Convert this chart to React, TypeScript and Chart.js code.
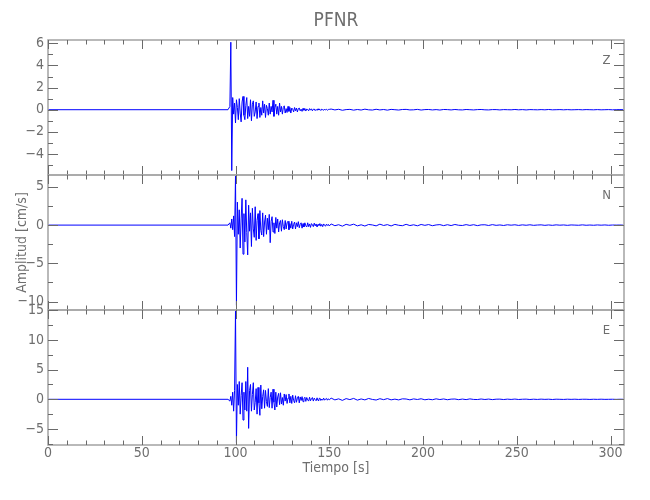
import React, { useEffect, useRef } from "react";
import { Chart, registerables } from "chart.js";

Chart.register(...registerables);

const titleText = "PFNR";
const xTitle = "Tiempo [s]";
const yTitle = "Amplitud [cm/s]";
const channelNames = ["Z", "N", "E"];

// quiet part before the arrival (s, cm/s)
const preTimes = [0, 96];
const preValues = [0, 0];

// active part: samples every 0.5 s starting at 96.5 s
const activeStart = 96.5;
const activeStep = 0.5;
const zActive = [
  0, 0.3, 6.1, -5.5, 1.1, -0.4, 0.6, -1.2, 0.9, 0.2,
  -0.9, 1.0, -0.3, -1.1, 0.7, 1.2, -0.5, -0.9, 0.4, 1.1,
  -0.8, 0.3, -0.6, 0.9, -1.0, 0.5, 0.8, -0.6, -0.2, 0.7,
  -0.8, 0.3, 0.6, -0.7, 0.2, -0.5, 0.8, -0.3, 0.5, -0.7,
  0.4, 0.1, -0.5, 0.6, -0.4, 0.3, -0.2, 0.85, -0.6, 0.2,
  0.5, -0.4, 0.3, -0.5, 0.6, -0.2, 0.3, -0.4, 0.2, 0.35,
  -0.3, 0.1, -0.25, 0.3, -0.15, 0.2, -0.3, 0.15, 0.05, -0.2,
  0.2, -0.1, 0.15, -0.2, 0.1, 0.15, -0.1, 0.05, -0.15, 0.12,
  -0.05, 0.1, -0.12, 0.06, 0.02, -0.1, 0.1, -0.04, 0.08, -0.1,
  0.04, 0.06, -0.08, 0.03, -0.06, 0.08, -0.03, 0.04, -0.07, 0.05,
  0.0, -0.05, 0.06, -0.03, 0.04, -0.05, 0.02, 0.03,
];
const nActive = [
  0, 0.3, -0.4, 0.8, -0.6, 1.2, -1.5, 6.5, -10.5, 3.0,
  -1.2, 2.0, -3.0, 0.8, 3.5, -3.8, 1.5, -2.2, 3.3, -1.0,
  -3.9, 2.6, -0.8, 1.6, -2.8, 2.2, -0.5, -1.6, 2.4, -2.0,
  0.6, 1.5, -1.8, 1.9, -0.7, -1.3, 1.6, -1.5, 0.4, 1.3,
  -1.2, 0.9, -0.6, 1.4, -2.3, 0.5, 1.1, -0.9, 0.3, -1.1,
  1.0, -0.4, 0.8, -0.9, 0.3, 0.6, -0.8, 0.7, -0.2, -0.6,
  0.6, -0.5, 0.3, 0.5, -0.6, 0.2, -0.4, 0.5, -0.5, 0.1,
  0.4, -0.5, 0.3, -0.2, 0.45, -0.35, 0.1, 0.3, -0.4, 0.2,
  -0.25, 0.3, -0.1, -0.25, 0.3, -0.2, 0.15, -0.3, 0.2, 0.05,
  -0.2, 0.25, -0.1, 0.15, -0.25, 0.1, -0.05, 0.2, -0.15, 0.1,
  -0.2, 0.15, 0.0, -0.15, 0.12, -0.05, 0.1, -0.12,
];
const eActive = [
  0, -0.3, 0.5, -1.0, 1.2, -2.0, 1.5, 15.0, -7.3, 2.5,
  -1.0, 3.0, -2.5, 0.6, 2.8, -3.5, 1.2, -1.8, 3.0, -2.0,
  5.4, -4.9, 1.5, 2.5, -2.0, 0.8, 2.8, -1.8, -0.5, 1.8,
  -2.5, 2.0, -0.6, -2.7, 2.4, -1.6, 0.5, 1.6, -1.5, 1.5,
  -0.4, -1.2, 1.8, -1.4, 0.3, 1.2, -1.5, 1.7, -0.5, -1.8,
  1.2, -1.3, 0.4, 1.0, -0.9, 1.1, -0.8, 0.3, -1.0, 0.9,
  -0.3, 0.8, -0.7, 0.2, 0.9, -0.6, 0.5, -0.7, 0.7, -0.2,
  -0.6, 0.6, -0.5, 0.2, 0.5, -0.6, 0.4, -0.2, 0.45, -0.4,
  0.1, 0.35, -0.35, 0.3, -0.1, -0.3, 0.35, -0.25, 0.1, 0.3,
  -0.3, 0.2, -0.05, -0.25, 0.25, -0.2, 0.1, 0.2, -0.2, 0.05,
  -0.15, 0.2, -0.15, 0.05, 0.15, -0.15, 0.1, -0.1,
];

// late coda: samples every 2 s starting at 151 s
const tailStart = 151;
const tailStep = 2;
const zTail = [
  0.06, -0.02, 0.04, -0.05, 0.01, 0.03, -0.04, 0.02, -0.03, 0.05,
  -0.01, -0.03, 0.04, -0.02, 0.02, -0.04, 0.03, 0.0, -0.03, 0.02,
  0.03, -0.02, -0.01, 0.03, -0.03, 0.01, 0.02, -0.02, 0.01, -0.03,
  0.02, 0.01, -0.02, 0.02, -0.01, -0.02, 0.02, 0.0, -0.02, 0.01,
  0.02, -0.01, -0.02, 0.01, 0.01, -0.02, 0.01, 0.0, -0.01, 0.02,
  -0.01, 0.01, -0.02, 0.01, 0.0, -0.01, 0.01, -0.01, 0.02, -0.01,
  0.0, 0.01, -0.01, 0.01, -0.01, 0.0, 0.01, -0.01, 0.01, 0.0,
  -0.01, 0.01, -0.01, 0.0, 0.01, -0.01, 0.0, 0.01, 0.0,
];
const nTail = [
  0.15, -0.08, 0.05, -0.14, 0.1, -0.03, 0.12, -0.1, 0.04, -0.12,
  0.08, 0.02, -0.1, 0.12, -0.05, 0.06, -0.11, 0.09, -0.02, -0.08,
  0.1, -0.06, 0.04, -0.09, 0.08, -0.03, 0.07, -0.08, 0.02, 0.06,
  -0.07, 0.05, -0.06, 0.08, -0.02, -0.05, 0.06, -0.04, 0.05, -0.07,
  0.03, 0.04, -0.05, 0.06, -0.03, 0.02, -0.05, 0.04, -0.01, 0.04,
  -0.04, 0.03, -0.02, 0.04, -0.03, 0.01, 0.03, -0.03, 0.02, -0.03,
  0.03, -0.01, 0.02, -0.03, 0.02, 0.0, -0.02, 0.03, -0.02, 0.01,
  -0.02, 0.02, -0.01, 0.02, -0.02, 0.01, 0.0, 0.01, -0.01,
];
const eTail = [
  0.2, -0.1, 0.08, -0.18, 0.12, -0.05, 0.15, -0.14, 0.06, -0.1,
  0.14, -0.02, -0.12, 0.1, -0.06, 0.12, -0.09, 0.03, -0.1, 0.08,
  0.05, -0.09, 0.07, -0.03, 0.09, -0.08, 0.02, -0.07, 0.08, -0.04,
  0.06, -0.07, 0.03, 0.05, -0.06, 0.04, -0.05, 0.07, -0.02, -0.04,
  0.05, -0.03, 0.04, -0.05, 0.02, 0.03, -0.04, 0.03, -0.02, 0.04,
  -0.03, 0.01, 0.03, -0.03, 0.02, -0.02, 0.03, -0.01, 0.02, -0.03,
  0.02, 0.0, -0.02, 0.02, -0.01, 0.02, -0.02, 0.01, 0.01, -0.02,
  0.01, -0.01, 0.02, -0.01, 0.0, 0.01, -0.01, 0.01, 0.0,
];

const xRange = [0, 307.2];
const xTicks = [0, 50, 100, 150, 200, 250, 300];
const xMinorStep = 10;

const zRange = [-5.9, 6.3];
const nRange = [-11.1, 6.55];
const eRange = [-7.7, 15.05];
const zTicks = [-4, -2, 0, 2, 4, 6];
const nTicks = [-10, -5, 0, 5];
const eTicks = [-5, 0, 5, 10, 15];
const zMinorStep = 1;
const nMinorStep = 2.5;
const eMinorStep = 2.5;

const FONT = "'Liberation Sans Narrow', 'DejaVu Sans Condensed', 'Liberation Sans', sans-serif";
const TEXT_COLOR = "#6e6e6e";
const FRAME_COLOR = "#a8a8a8";
const TICK_COLOR = "#6a6a6a";

function buildSeries(active: number[], tail: number[]) {
  const pts: { x: number; y: number }[] = [];
  preTimes.forEach((t, i) => pts.push({ x: t, y: preValues[i] }));
  active.forEach((v, i) => pts.push({ x: activeStart + i * activeStep, y: v }));
  tail.forEach((v, i) => pts.push({ x: tailStart + i * tailStep, y: v }));
  return pts;
}

const fmt = (v: number) => (v < 0 ? "\u2212" + Math.abs(v) : String(v));

function yAxis(range: number[], ticks: number[], withTitle: boolean) {
  return {
    type: "linear",
    position: "left",
    stack: "panels",
    stackWeight: 1,
    offset: false,
    min: range[0],
    max: range[1],
    grid: { display: false, drawTicks: false },
    border: { display: false },
    ticks: {
      color: TEXT_COLOR,
      font: { family: FONT, size: 14 },
      padding: 4,
      autoSkip: false,
      callback: (v: number) => fmt(v),
    },
    title: withTitle
      ? {
          display: true,
          text: yTitle,
          color: TEXT_COLOR,
          font: { family: FONT, size: 14 },
          padding: { top: 13.6, bottom: 0 },
        }
      : { display: false },
    afterBuildTicks: (s: any) => {
      s.ticks = ticks.map((v) => ({ value: v }));
    },
    afterFit: (s: any) => {
      s.width = 48;
    },
  };
}

const framePlugin = {
  id: "seisFrame",
  afterDatasetsDraw(chart: any) {
    const { ctx, chartArea, scales } = chart;
    const xs = scales.x;
    const left = chartArea.left;
    const right = chartArea.right;
    const panels = [
      { s: scales.yZ, major: zTicks, step: zMinorStep, name: channelNames[0] },
      { s: scales.yN, major: nTicks, step: nMinorStep, name: channelNames[1] },
      { s: scales.yE, major: eTicks, step: eMinorStep, name: channelNames[2] },
    ];
    ctx.save();
    // title centred over the plot area
    ctx.fillStyle = TEXT_COLOR;
    ctx.font = "19px " + FONT;
    ctx.textAlign = "center";
    ctx.textBaseline = "middle";
    ctx.fillText(titleText, (left + right) / 2, 21.5);
    for (const p of panels) {
      const top = p.s.top;
      const bottom = p.s.bottom;
      ctx.strokeStyle = FRAME_COLOR;
      ctx.lineWidth = 1.6;
      ctx.strokeRect(left, top, right - left, bottom - top);
      ctx.strokeStyle = TICK_COLOR;
      ctx.lineWidth = 1;
      ctx.beginPath();
      for (let v = xRange[0]; v <= xRange[1]; v += xMinorStep) {
        const px = Math.round(xs.getPixelForValue(v)) + 0.5;
        const len = xTicks.includes(v) ? 9 : 4.5;
        ctx.moveTo(px, top);
        ctx.lineTo(px, top + len);
        ctx.moveTo(px, bottom);
        ctx.lineTo(px, bottom - len);
      }
      const start = Math.ceil(p.s.min / p.step) * p.step;
      for (let v = start; v <= p.s.max + 1e-9; v += p.step) {
        const py = Math.round(p.s.getPixelForValue(v)) + 0.5;
        const isMajor = p.major.some((m) => Math.abs(m - v) < 1e-6);
        const len = isMajor ? 10 : 5;
        ctx.moveTo(left, py);
        ctx.lineTo(left + len, py);
        ctx.moveTo(right, py);
        ctx.lineTo(right - len, py);
      }
      ctx.stroke();
      ctx.fillStyle = TEXT_COLOR;
      ctx.font = "13px " + FONT;
      ctx.textAlign = "center";
      ctx.textBaseline = "middle";
      ctx.fillText(p.name, right - 17.5, top + 21);
    }
    ctx.restore();
  },
};

export default function App() {
  const ref = useRef<HTMLCanvasElement | null>(null);
  useEffect(() => {
    if (!ref.current) return;
    const mk = (data: any, axis: string) => ({
      data,
      yAxisID: axis,
      borderColor: "#0000ff",
      borderWidth: 1,
      pointRadius: 0,
      tension: 0,
      fill: false,
    });
    const chart = new Chart(ref.current, {
      type: "line",
      data: {
        datasets: [
          mk(buildSeries(zActive, zTail), "yZ"),
          mk(buildSeries(nActive, nTail), "yN"),
          mk(buildSeries(eActive, eTail), "yE"),
        ],
      },
      options: {
        responsive: false,
        animation: false,
        parsing: false,
        normalized: true,
        layout: { padding: { left: 0, right: 26, top: 40, bottom: 0 } },
        plugins: {
          legend: { display: false },
          tooltip: { enabled: false },
          title: { display: false },
        },
        scales: {
          x: {
            type: "linear",
            position: "bottom",
            min: xRange[0],
            max: xRange[1],
            grid: { display: false, drawTicks: false },
            border: { display: false },
            ticks: {
              color: TEXT_COLOR,
              font: { family: FONT, size: 14 },
              padding: 0,
              autoSkip: false,
              maxRotation: 0,
            },
            afterBuildTicks: (s: any) => {
              s.ticks = xTicks.map((v) => ({ value: v }));
            },
            afterFit: (s: any) => {
              s.height = 55;
            },
            title: {
              display: true,
              text: xTitle,
              color: TEXT_COLOR,
              font: { family: FONT, size: 14 },
              padding: { top: 0, bottom: 23.6 },
            },
          },
          yE: yAxis(eRange, eTicks, false),
          yN: yAxis(nRange, nTicks, true),
          yZ: yAxis(zRange, zTicks, false),
        } as any,
      },
      plugins: [framePlugin],
    } as any);
    return () => chart.destroy();
  }, []);
  return (
    <div style={{ position: "absolute", left: 0, top: 0, width: 650, height: 500, background: "#fff" }}>
      <canvas ref={ref} width={650} height={500} style={{ width: 650, height: 500, display: "block" }} />
    </div>
  );
}
